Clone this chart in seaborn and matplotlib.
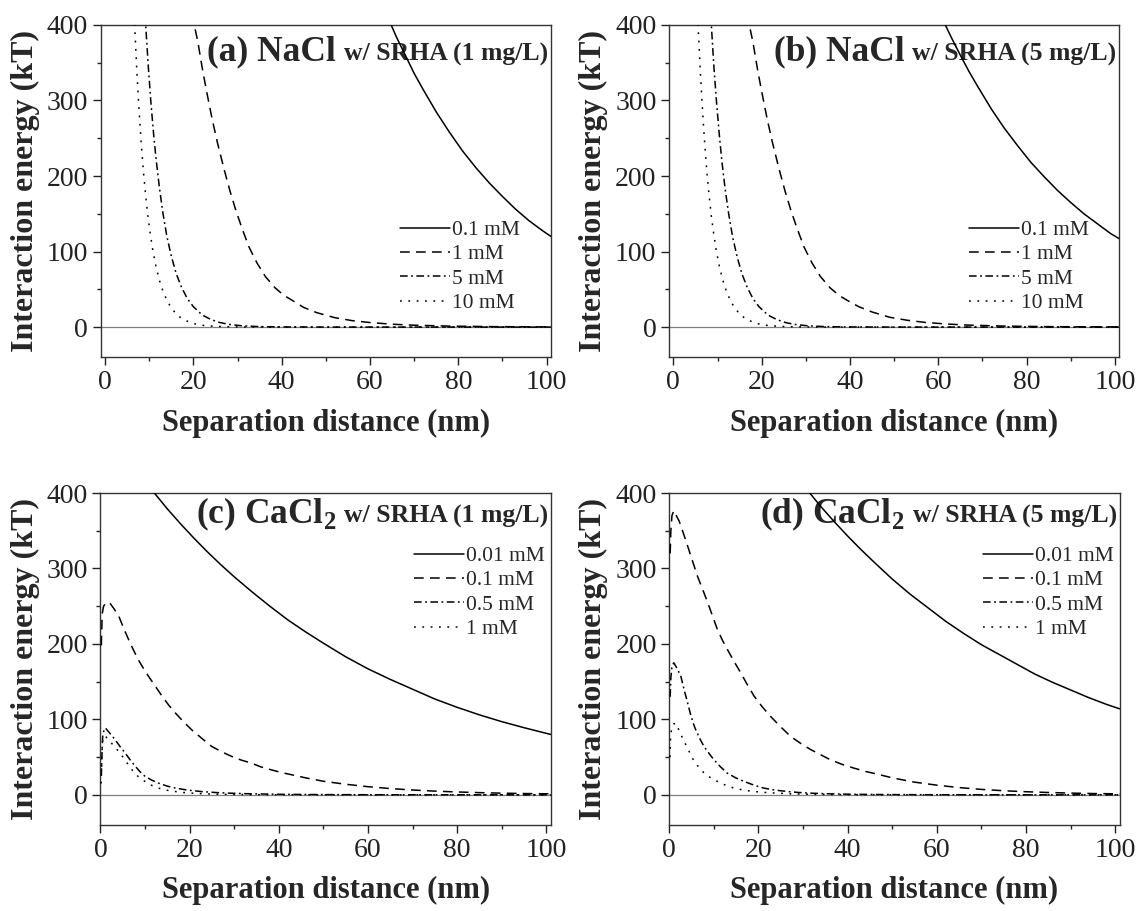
import matplotlib
matplotlib.use("Agg")
import pandas as pd
import matplotlib.pyplot as plt
from matplotlib.ticker import MultipleLocator
import seaborn as sns

# Style
sns.set_style("ticks")
plt.rcParams['font.family'] = ['Liberation Serif', 'DejaVu Serif']
plt.rcParams['mathtext.fontset'] = 'custom'
plt.rcParams['mathtext.rm'] = 'Liberation Serif'
plt.rcParams['mathtext.bf'] = 'Liberation Serif:bold'
plt.rcParams['lines.scale_dashes'] = False

##Data (x = separation distance nm, y = energy kT)
# (a) NaCl w/ SRHA 1 mg/L
a_01_x = [64.0, 64.8, 66, 68, 70, 72, 75, 78, 81, 84, 87, 90, 93, 96, 99, 101]
a_01_y = [411, 400, 384, 360, 336, 315, 285, 258, 233, 211, 191, 173, 156, 141, 128, 120]
a_1_x = [19.8, 20.2, 21, 22.1, 23, 24.3, 25.5, 27, 28.3, 29.6, 31, 32.6, 34.4, 36.3, 38.5,
         40.5, 42.5, 45, 48, 52, 56, 60, 65, 70, 78, 88, 101]
a_1_y = [415, 400, 378, 340, 312, 274, 243, 208, 180, 155, 131, 106, 85, 67, 52,
         42, 35, 26, 19, 12.5, 8.5, 6, 3.8, 2.5, 1.3, 0.6, 0.2]
a_5_x = [8.8, 9.2, 9.8, 10.4, 11.0, 11.6, 12.3, 13.1, 14.0, 15.0, 16.1, 17.3, 18.6, 20,
         22, 24, 26, 28, 31, 35, 40, 50, 60, 80, 101]
a_5_y = [440, 400, 344, 296, 255, 220, 185, 151, 120, 94, 71, 53, 38, 27,
         16, 10, 6, 3.6, 1.7, 0.6, 0.2, 0, 0, 0, 0]
a_10_x = [6.2, 6.7, 7.2, 7.7, 8.2, 8.7, 9.2, 9.7, 10.2, 10.8, 11.5, 12.3, 13.2, 14.2,
          15.3, 16.5, 18, 20, 22, 25, 30, 40, 60, 80, 101]
a_10_y = [470, 400, 338, 287, 242, 205, 174, 147, 125, 102, 81, 62, 46, 33,
          23, 15, 9.2, 4.7, 2.4, 0.9, 0.2, 0, 0, 0, 0]

# (b) NaCl w/ SRHA 5 mg/L
b_01_x = [61.0, 61.6, 63, 65, 67, 69, 72, 75, 78, 81, 84, 87, 90, 93, 96, 99, 101]
b_01_y = [408, 400, 383, 360, 338, 318, 289, 263, 240, 218, 199, 181, 165, 150, 137, 124, 117]
b_1_x = [16.8, 17.2, 18, 19.1, 20, 21.3, 22.5, 24, 25.3, 26.6, 28, 29.6, 31.4, 33.3, 35.5,
         37.5, 39.5, 42, 45, 49, 53, 57, 62, 67, 75, 85, 101]
b_1_y = [415, 400, 378, 340, 312, 274, 243, 208, 180, 155, 131, 106, 85, 67, 52,
         42, 35, 27, 20, 13, 9, 6.2, 4, 2.6, 1.3, 0.6, 0.2]
b_5_x = [8.2, 8.6, 9.2, 9.8, 10.4, 11.0, 11.7, 12.5, 13.4, 14.4, 15.5, 16.7, 18.0, 19.4,
         21.4, 23.4, 25.4, 27.4, 30.4, 34.4, 40, 50, 60, 80, 101]
b_5_y = [445, 400, 343, 296, 255, 219, 184, 151, 120, 94, 71, 53, 38, 27,
         16, 10, 6, 3.6, 1.7, 0.6, 0.2, 0, 0, 0, 0]
b_10_x = [5.2, 5.6, 6.1, 6.6, 7.1, 7.6, 8.1, 8.6, 9.1, 9.7, 10.4, 11.2, 12.1, 13.1,
          14.2, 15.4, 17, 19, 21, 24, 28, 35, 60, 80, 101]
b_10_y = [455, 400, 339, 287, 243, 205, 174, 147, 125, 102, 81, 62, 46, 33,
          23, 15, 9, 4.6, 2.4, 0.9, 0.3, 0, 0, 0, 0]

# (c) CaCl2 w/ SRHA 1 mg/L
c_001_x = [11.5, 12.1, 15, 18, 21, 24, 27, 30, 34, 38, 42, 46, 50, 55, 60, 65, 70, 75,
           80, 85, 90, 95, 101]
c_001_y = [405, 400, 379, 359, 340, 322, 305, 289, 269, 250, 232, 216, 201, 183, 167, 153,
           140, 127, 116, 106, 97, 89, 80]
c_01_x = [0.2, 0.4, 0.7, 1.2, 2, 3, 4.1, 5.2, 6.3, 7.4, 8.5, 9.6, 10.8, 12.3, 13.8, 15.3,
          16.8, 18.6, 20.5, 22.7, 25, 27.2, 29.4, 31.6, 33.9, 36, 38.4, 40.6, 42.9, 46,
          50, 55, 60, 65, 70, 75, 80, 85, 90, 95, 101]
c_01_y = [198, 240, 250, 254, 255, 247, 237, 221, 206, 192, 179, 168, 157, 144, 131, 119,
          108.5, 97, 86, 75, 64, 57, 51, 46, 42, 37, 33, 29.5, 26.6, 22.5,
          18, 14, 10.8, 8.3, 6.4, 4.9, 3.8, 2.9, 2.2, 1.7, 1.3]
c_05_x = [0.2, 0.35, 0.5, 0.8, 1.1, 2.2, 3.3, 4.4, 5.6, 6.7, 7.8, 8.9, 10, 11.5, 13, 15,
          16.8, 19.5, 22.7, 26, 29.4, 34, 40, 50, 60, 80, 101]
c_05_y = [25, 55, 77, 86, 88.6, 81, 73, 64, 55, 46, 38, 30.5, 24.5, 19.5, 15.5, 11.5,
          8.9, 6.3, 4.3, 3, 2.1, 1.3, 0.7, 0.3, 0.1, 0, 0]
c_1_x = [0.15, 0.3, 0.45, 0.7, 1.2, 2.4, 3.6, 4.8, 6, 7.1, 8.5, 10, 11.5, 13, 15, 16.8,
         18.5, 20.5, 24, 28, 35, 45, 60, 80, 101]
c_1_y = [15, 45, 70, 78, 77, 69, 61, 52, 42, 33, 24, 17.7, 12.5, 8.9, 6, 4.4,
         3.1, 2.2, 1.2, 0.6, 0.2, 0, 0, 0, 0]

# (d) CaCl2 w/ SRHA 5 mg/L
d_001_x = [31, 31.5, 34, 37, 40, 43, 46, 50, 54, 58, 62, 66, 70, 74, 78, 82, 86, 90, 94,
           98, 101]
d_001_y = [404, 400, 382, 362, 343, 325, 308, 286, 266, 248, 230, 214, 199, 186, 173, 160,
           149, 139, 129, 120, 114]
d_01_x = [0.2, 0.35, 0.6, 1, 2.2, 3.2, 4.1, 5.2, 6.3, 7.5, 8.6, 9.7, 10.8, 11.9, 13, 14.5,
          16, 17.5, 19, 20.8, 22.7, 25, 27.2, 29.5, 31.7, 34, 36.1, 38.7, 41.4, 44, 46.6,
          50, 55, 60, 65, 70, 75, 80, 85, 90, 95, 101]
d_01_y = [320, 350, 370, 376.5, 363, 346, 330, 310, 290, 272, 255, 237, 219, 205, 193, 177,
          162, 146, 131, 117, 104, 90, 77.5, 68, 60, 53, 46.5, 40.5, 35.4, 31, 27.5,
          22.5, 16.8, 12.8, 9.6, 7.2, 5.4, 4.1, 3.1, 2.3, 1.7, 1.3]
d_05_x = [0.2, 0.35, 0.6, 1, 1.8, 2.6, 3.3, 4.1, 4.8, 5.6, 6.7, 7.8, 8.9, 10, 11.5, 13,
          14.9, 16.8, 19, 21.2, 23.8, 26.5, 29, 31.7, 36, 42, 50, 60, 80, 101]
d_05_y = [130, 155, 170, 175, 167, 157, 140, 122, 106, 91, 76, 64, 55, 46.5, 37, 28.8,
          22.5, 17.7, 12.8, 8.9, 6.2, 4.4, 3.1, 2.2, 1.3, 0.6, 0.3, 0.1, 0, 0]
d_1_x = [0.15, 0.3, 0.6, 1.0, 1.5, 2.0, 2.6, 3.3, 4.1, 4.8, 5.6, 6.7, 7.8, 9.3, 10.8,
         12.6, 14.5, 16.7, 19, 21.5, 24.2, 28, 34, 42, 55, 80, 101]
d_1_y = [50, 78, 90, 94, 95, 88, 80, 71, 62, 53, 44, 36, 28.8, 22.5, 17.7,
         12.8, 8.9, 6.2, 4.4, 3.1, 2.2, 1.2, 0.5, 0.2, 0, 0, 0]

nacl_labels = ["0.1 mM", "1 mM", "5 mM", "10 mM"]
cacl_labels = ["0.01 mM", "0.1 mM", "0.5 mM", "1 mM"]

styles = ['-', (0, (7, 4.5)), (0, (5.5, 2.5, 1.3, 2.5)), (0, (1.3, 4.7))]

panels = [
    dict(curves=[(a_01_x, a_01_y), (a_1_x, a_1_y), (a_5_x, a_5_y), (a_10_x, a_10_y)],
         labels=nacl_labels, head="(a) NaCl", tail="w/ SRHA (1 mg/L)",
         rect=[0.0883, 0.6078, 0.395, 0.3648], xmin=-1, ty=0.893, leg=(0.665, 0.273)),
    dict(curves=[(b_01_x, b_01_y), (b_1_x, b_1_y), (b_5_x, b_5_y), (b_10_x, b_10_y)],
         labels=nacl_labels, head="(b) NaCl", tail="w/ SRHA (5 mg/L)",
         rect=[0.5868, 0.6078, 0.395, 0.3648], xmin=-1, ty=0.893, leg=(0.667, 0.273)),
    dict(curves=[(c_001_x, c_001_y), (c_01_x, c_01_y), (c_05_x, c_05_y), (c_1_x, c_1_y)],
         labels=cacl_labels, head=r"(c) CaCl$_\mathbf{2}$", tail="w/ SRHA (1 mg/L)",
         rect=[0.0881, 0.0944, 0.395, 0.3644], xmin=0, ty=0.91, leg=(0.697, 0.700)),
    dict(curves=[(d_001_x, d_001_y), (d_01_x, d_01_y), (d_05_x, d_05_y), (d_1_x, d_1_y)],
         labels=cacl_labels, head=r"(d) CaCl$_\mathbf{2}$", tail="w/ SRHA (5 mg/L)",
         rect=[0.5871, 0.0944, 0.395, 0.3644], xmin=0, ty=0.91, leg=(0.697, 0.700)),
]

fig = plt.figure(figsize=(11.4, 9.11), dpi=100)
tails = []
for p in panels:
    ax = fig.add_axes(p['rect'])
    ax.axhline(0, color='#7f7f7f', lw=0.9, zorder=1)
    for (xs, ys), lab, ls in zip(p['curves'], p['labels'], styles):
        df = pd.DataFrame({'x': xs, 'y': ys})
        sns.lineplot(data=df, x='x', y='y', ax=ax, color='black', lw=1.1,
                     linestyle=ls, label=lab, estimator=None, sort=False, zorder=3)
    ax.set_xlim(p['xmin'], 101)
    ax.set_ylim(-40, 400)
    ax.set_xticks(range(0, 101, 20))
    ax.set_yticks(range(0, 401, 100))
    ax.xaxis.set_minor_locator(MultipleLocator(10))
    ax.yaxis.set_minor_locator(MultipleLocator(50))
    ax.tick_params(which='major', direction='out', length=5.5, width=1, labelsize=20,
                   pad=3.5, colors='#222222')
    ax.tick_params(which='minor', direction='out', length=3, width=1, colors='#222222')
    for s in ax.spines.values():
        s.set_visible(True)
        s.set_color('#333333')
        s.set_linewidth(1)
    ax.set_xlabel("Separation distance (nm)", fontsize=22, fontweight='bold', labelpad=10)
    ax.set_ylabel("Interaction energy (kT)", fontsize=23, fontweight='bold', labelpad=5)
    ax.legend(loc='center left', bbox_to_anchor=p['leg'], frameon=False, fontsize=15.5,
              handlelength=2.3, handletextpad=0.1, labelspacing=0.2,
              borderpad=0, borderaxespad=0)
    t2 = ax.text(0.994, p['ty'], p['tail'], transform=ax.transAxes, ha='right',
                 va='baseline', fontsize=18.5, fontweight='bold', zorder=1)
    tails.append((ax, t2, p))

# put the big part of each title just left of the small part
fig.canvas.draw()
r = fig.canvas.get_renderer()
for ax, t2, p in tails:
    bb = t2.get_window_extent(r)
    x_ax = ax.transAxes.inverted().transform((bb.x0 - 8, 0))[0]
    ax.text(x_ax, p['ty'], p['head'], transform=ax.transAxes, ha='right',
            va='baseline', fontsize=25.5, fontweight='bold', zorder=1)

fig.savefig("out.png", dpi=100)
